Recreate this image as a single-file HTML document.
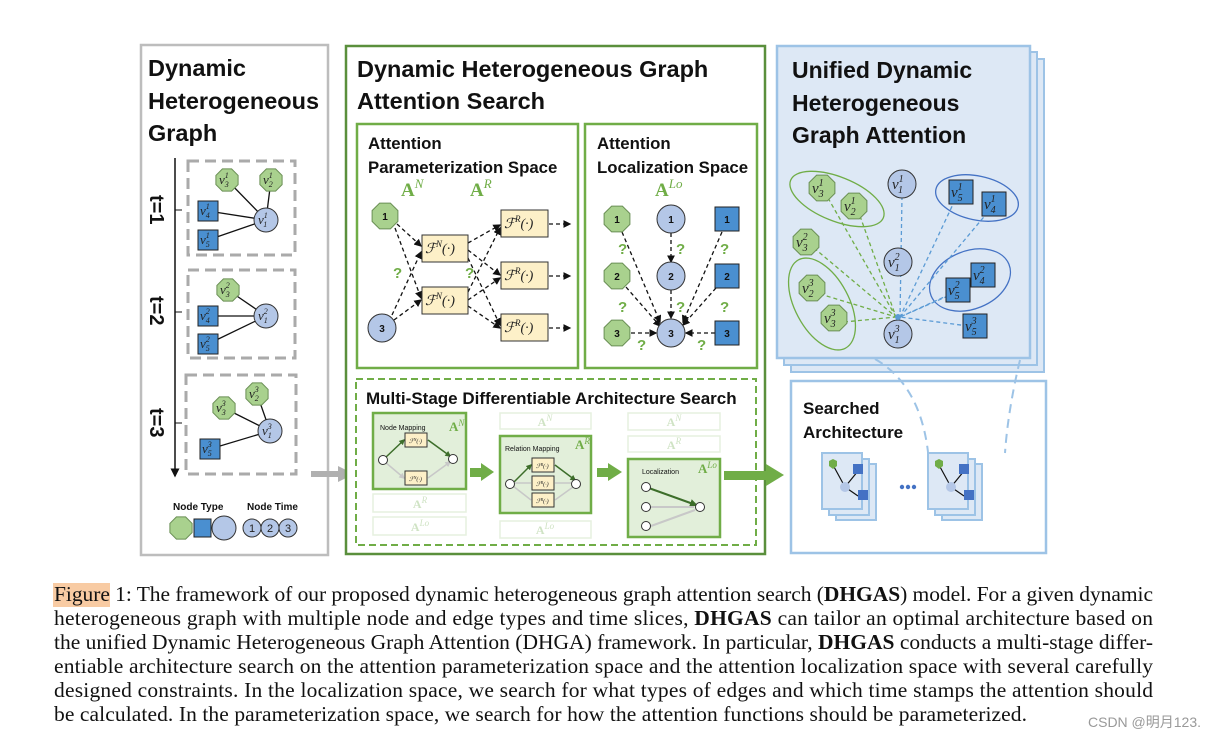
<!DOCTYPE html>
<html><head><meta charset="utf-8"><style>
html,body{margin:0;padding:0;background:#fff;width:1230px;height:740px;overflow:hidden}
svg{display:block}
.t{font-family:"Liberation Sans",sans-serif;font-weight:bold;fill:#111}
.v{font-family:"Liberation Serif",serif;font-style:italic;font-size:13px;fill:#222}
.s{font-size:8px}
.vb{font-size:15px}
.vb .s{font-size:10px}
.n{font-family:"Liberation Sans",sans-serif;font-weight:bold;font-size:10px;fill:#111;text-anchor:middle}
.q{font-family:"Liberation Sans",sans-serif;font-weight:bold;font-size:15px;fill:#70ad47}
.A{font-family:"Liberation Serif",serif;font-weight:bold;font-size:19px;fill:#70ad47}
.A2{font-family:"Liberation Serif",serif;font-weight:bold;font-size:13px;fill:#70ad47}
.Af{font-family:"Liberation Serif",serif;font-weight:bold;font-size:12px;fill:#cfe3c4;text-anchor:middle}
.cap{font-family:"Liberation Serif",serif;font-size:21.5px;fill:#111}
.F{font-family:"Liberation Serif",serif;font-style:italic;font-size:14px;fill:#222}
.f6{font-family:"Liberation Serif",serif;font-style:italic;font-size:6px;fill:#222}
</style></head><body>
<svg width="1230" height="740" viewBox="0 0 1230 740" xmlns="http://www.w3.org/2000/svg">
<defs>
<polygon id="o12" points="11.1,4.6 4.6,11.1 -4.6,11.1 -11.1,4.6 -11.1,-4.6 -4.6,-11.1 4.6,-11.1 11.1,-4.6" fill="#a9d18e" stroke="#6a8f55" stroke-width="1"/>
<polygon id="o14" points="12.9,5.4 5.4,12.9 -5.4,12.9 -12.9,5.4 -12.9,-5.4 -5.4,-12.9 5.4,-12.9 12.9,-5.4" fill="#a9d18e" stroke="#6a8f55" stroke-width="1"/>
<circle id="c12" r="12" fill="#b4c7e7" stroke="#333" stroke-width="1"/>
<circle id="c14" r="14" fill="#b4c7e7" stroke="#333" stroke-width="1"/>
<rect id="s10" x="-10" y="-10" width="20" height="20" fill="#4a8fd0" stroke="#222" stroke-width="1"/>
<rect id="s12" x="-12" y="-12" width="24" height="24" fill="#4a8fd0" stroke="#222" stroke-width="1"/>
<marker id="ah" markerWidth="6" markerHeight="6" refX="5" refY="3" orient="auto"><path d="M0,0 L6,3 L0,6z" fill="#111"/></marker>
<marker id="ahg" markerWidth="4" markerHeight="4" refX="3" refY="2" orient="auto"><path d="M0,0 L4,2 L0,4z" fill="#3d6e2a"/></marker>
<marker id="ahl" markerWidth="4" markerHeight="4" refX="3" refY="2" orient="auto"><path d="M0,0 L4,2 L0,4z" fill="#c8c8c8"/></marker>
</defs>

<!-- Panel 1 -->
<rect x="141" y="45" width="187" height="510" fill="#fff" stroke="#bdbdbd" stroke-width="2.5"/>
<text class="t" font-size="23.5" style="font-size:23.5px" x="148" y="76">Dynamic</text>
<text class="t" style="font-size:23.5px" x="148" y="109">Heterogeneous</text>
<text class="t" style="font-size:23.5px" x="148" y="141">Graph</text>
<line x1="175" y1="158" x2="175" y2="476" stroke="#111" stroke-width="1.5" marker-end="url(#ah)"/>
<line x1="175" y1="210" x2="182" y2="210" stroke="#111"/><line x1="175" y1="312" x2="182" y2="312" stroke="#111"/><line x1="175" y1="423" x2="182" y2="423" stroke="#111"/>
<text class="t" style="font-size:20px" transform="translate(150,195) rotate(90)">t=1</text>
<text class="t" style="font-size:20px" transform="translate(150,296) rotate(90)">t=2</text>
<text class="t" style="font-size:20px" transform="translate(150,408) rotate(90)">t=3</text>
<g fill="none" stroke="#aaa" stroke-width="3" stroke-dasharray="11,6">
<rect x="188" y="161" width="107" height="94"/><rect x="188" y="270" width="107" height="88"/><rect x="186" y="375" width="110" height="99"/></g>
<g stroke="#111" stroke-width="1.3">
<line x1="227" y1="180" x2="266" y2="220"/><line x1="271" y1="180" x2="266" y2="220"/><line x1="208" y1="211" x2="266" y2="220"/><line x1="208" y1="240" x2="266" y2="220"/>
<line x1="228" y1="290" x2="266" y2="316"/><line x1="208" y1="316" x2="266" y2="316"/><line x1="208" y1="344" x2="266" y2="316"/>
<line x1="224" y1="408" x2="270" y2="431"/><line x1="257" y1="394" x2="270" y2="431"/><line x1="210" y1="449" x2="270" y2="431"/></g>
<use href="#o12" x="227" y="180"/><use href="#o12" x="271" y="180"/><use href="#s10" x="208" y="211"/><use href="#s10" x="208" y="240"/><use href="#c12" x="266" y="220"/>
<use href="#o12" x="228" y="290"/><use href="#s10" x="208" y="316"/><use href="#s10" x="208" y="344"/><use href="#c12" x="266" y="316"/>
<use href="#o12" x="224" y="408"/><use href="#o12" x="257" y="394"/><use href="#s10" x="210" y="449"/><use href="#c12" x="270" y="431"/>
<g class="v">
<text x="219" y="184">v<tspan class="s" dy="-6">1</tspan><tspan class="s" dx="-4" dy="9">3</tspan></text>
<text x="263" y="184">v<tspan class="s" dy="-6">1</tspan><tspan class="s" dx="-4" dy="9">2</tspan></text>
<text x="200" y="215">v<tspan class="s" dy="-6">1</tspan><tspan class="s" dx="-4" dy="9">4</tspan></text>
<text x="200" y="244">v<tspan class="s" dy="-6">1</tspan><tspan class="s" dx="-4" dy="9">5</tspan></text>
<text x="258" y="224">v<tspan class="s" dy="-6">1</tspan><tspan class="s" dx="-4" dy="9">1</tspan></text>
<text x="220" y="294">v<tspan class="s" dy="-6">2</tspan><tspan class="s" dx="-4" dy="9">3</tspan></text>
<text x="200" y="320">v<tspan class="s" dy="-6">2</tspan><tspan class="s" dx="-4" dy="9">4</tspan></text>
<text x="200" y="348">v<tspan class="s" dy="-6">2</tspan><tspan class="s" dx="-4" dy="9">5</tspan></text>
<text x="258" y="320">v<tspan class="s" dy="-6">2</tspan><tspan class="s" dx="-4" dy="9">1</tspan></text>
<text x="216" y="412">v<tspan class="s" dy="-6">3</tspan><tspan class="s" dx="-4" dy="9">3</tspan></text>
<text x="249" y="398">v<tspan class="s" dy="-6">3</tspan><tspan class="s" dx="-4" dy="9">2</tspan></text>
<text x="202" y="453">v<tspan class="s" dy="-6">3</tspan><tspan class="s" dx="-4" dy="9">5</tspan></text>
<text x="262" y="435">v<tspan class="s" dy="-6">3</tspan><tspan class="s" dx="-4" dy="9">1</tspan></text>
</g>
<text class="t" style="font-size:10px" x="173" y="510">Node Type</text>
<text class="t" style="font-size:10px" x="247" y="510">Node Time</text>
<use href="#o12" x="181" y="528"/><rect x="194" y="519" width="17" height="18" fill="#4a8fd0" stroke="#222"/><use href="#c12" x="224" y="528"/>
<g fill="#b4c7e7" stroke="#333"><circle cx="252" cy="528" r="9"/><circle cx="270" cy="528" r="9"/><circle cx="288" cy="528" r="9"/></g>
<g font-family="Liberation Sans,sans-serif" font-size="11" text-anchor="middle" fill="#222"><text x="252" y="532">1</text><text x="270" y="532">2</text><text x="288" y="532">3</text></g>
<line x1="311" y1="474" x2="340" y2="474" stroke="#b0b0b0" stroke-width="6"/><path d="M338,466 L354,474 L338,482z" fill="#b0b0b0"/>

<!-- Panel 2 -->
<rect x="346" y="46" width="419" height="508" fill="#fff" stroke="#5a8f3c" stroke-width="2.5"/>
<text class="t" style="font-size:23.5px" x="357" y="77">Dynamic Heterogeneous Graph</text>
<text class="t" style="font-size:23.5px" x="357" y="109">Attention Search</text>
<rect x="357" y="124" width="221" height="244" fill="#fff" stroke="#70ad47" stroke-width="2.5"/>
<rect x="585" y="124" width="172" height="244" fill="#fff" stroke="#70ad47" stroke-width="2.5"/>
<text class="t" style="font-size:16.8px" x="368" y="149">Attention</text>
<text class="t" style="font-size:16.8px" x="368" y="173">Parameterization Space</text>
<text class="A" x="401" y="196">A<tspan font-style="italic" font-weight="normal" style="font-size:13px" dy="-8">N</tspan></text>
<text class="A" x="470" y="196">A<tspan font-style="italic" font-weight="normal" style="font-size:13px" dy="-8">R</tspan></text>
<g stroke="#111" stroke-width="1.3" stroke-dasharray="4,3" fill="none" marker-end="url(#ah)">
<line x1="397" y1="224" x2="421" y2="246"/><line x1="395" y1="228" x2="421" y2="298"/>
<line x1="392" y1="315" x2="421" y2="252"/><line x1="394" y1="320" x2="421" y2="300"/>
<line x1="468" y1="243" x2="500" y2="225"/><line x1="468" y1="250" x2="500" y2="275"/><line x1="468" y1="258" x2="500" y2="325"/>
<line x1="468" y1="292" x2="500" y2="228"/><line x1="468" y1="300" x2="500" y2="278"/><line x1="468" y1="306" x2="500" y2="328"/>
<line x1="549" y1="224" x2="570" y2="224"/><line x1="549" y1="276" x2="570" y2="276"/><line x1="549" y1="328" x2="570" y2="328"/>
</g>
<use href="#o14" x="385" y="216"/><use href="#c14" x="382" y="328"/>
<text class="n" x="385" y="220">1</text><text class="n" x="382" y="332">3</text>
<g fill="#fdf0c8" stroke="#333" stroke-width="1">
<rect x="422" y="235" width="46" height="27"/><rect x="422" y="287" width="46" height="27"/>
<rect x="501" y="210" width="47" height="27"/><rect x="501" y="262" width="47" height="27"/><rect x="501" y="314" width="47" height="27"/></g>
<g class="F">
<text x="425" y="253">ℱ<tspan style="font-size:9px" dy="-6">N</tspan><tspan dy="6">(·)</tspan></text>
<text x="425" y="305">ℱ<tspan style="font-size:9px" dy="-6">N</tspan><tspan dy="6">(·)</tspan></text>
<text x="504" y="228">ℱ<tspan style="font-size:9px" dy="-6">R</tspan><tspan dy="6">(·)</tspan></text>
<text x="504" y="280">ℱ<tspan style="font-size:9px" dy="-6">R</tspan><tspan dy="6">(·)</tspan></text>
<text x="504" y="332">ℱ<tspan style="font-size:9px" dy="-6">R</tspan><tspan dy="6">(·)</tspan></text></g>
<text class="q" x="393" y="278">?</text><text class="q" x="465" y="278">?</text>

<text class="t" style="font-size:16.8px" x="597" y="149">Attention</text>
<text class="t" style="font-size:16.8px" x="597" y="173">Localization Space</text>
<text class="A" x="655" y="196">A<tspan font-style="italic" font-weight="normal" style="font-size:13px" dy="-8">Lo</tspan></text>
<g stroke="#111" stroke-width="1.3" stroke-dasharray="4,3" fill="none" marker-end="url(#ah)">
<line x1="622" y1="232" x2="660" y2="322"/><line x1="671" y1="233" x2="671" y2="262"/><line x1="722" y1="232" x2="683" y2="322"/>
<line x1="626" y1="287" x2="660" y2="326"/><line x1="671" y1="290" x2="671" y2="318"/><line x1="716" y1="288" x2="683" y2="325"/>
<line x1="631" y1="333" x2="656" y2="333"/><line x1="715" y1="333" x2="686" y2="333"/></g>
<use href="#o14" x="617" y="219"/><use href="#c14" x="671" y="219"/><use href="#s12" x="727" y="219"/>
<use href="#o14" x="617" y="276"/><use href="#c14" x="671" y="276"/><use href="#s12" x="727" y="276"/>
<use href="#o14" x="617" y="333"/><use href="#c14" x="671" y="333"/><use href="#s12" x="727" y="333"/>
<g class="n"><text x="617" y="223">1</text><text x="671" y="223">1</text><text x="727" y="223">1</text>
<text x="617" y="280">2</text><text x="671" y="280">2</text><text x="727" y="280">2</text>
<text x="617" y="337">3</text><text x="671" y="337">3</text><text x="727" y="337">3</text></g>
<g class="q"><text x="618" y="254">?</text><text x="676" y="254">?</text><text x="720" y="254">?</text>
<text x="618" y="312">?</text><text x="676" y="312">?</text><text x="720" y="312">?</text>
<text x="637" y="350">?</text><text x="697" y="350">?</text></g>

<!-- Multi-stage -->
<rect x="356" y="379" width="400" height="166" fill="#fff" stroke="#70ad47" stroke-width="2" stroke-dasharray="7,4"/>
<text class="t" style="font-size:17px" x="366" y="404">Multi-Stage Differentiable Architecture Search</text>
<g fill="#fff" stroke="#e6f0df" stroke-width="1.5">
<rect x="373" y="494" width="93" height="18"/><rect x="373" y="517" width="93" height="18"/>
<rect x="500" y="413" width="91" height="16"/><rect x="500" y="521" width="91" height="17"/>
<rect x="628" y="413" width="92" height="17"/><rect x="628" y="436" width="92" height="16"/></g>
<text class="Af" x="420" y="508">A<tspan font-style="italic" font-weight="normal" style="font-size:9px" dy="-5">R</tspan></text>
<text class="Af" x="420" y="531">A<tspan font-style="italic" font-weight="normal" style="font-size:9px" dy="-5">Lo</tspan></text>
<text class="Af" x="545" y="426">A<tspan font-style="italic" font-weight="normal" style="font-size:9px" dy="-5">N</tspan></text>
<text class="Af" x="545" y="534">A<tspan font-style="italic" font-weight="normal" style="font-size:9px" dy="-5">Lo</tspan></text>
<text class="Af" x="674" y="426">A<tspan font-style="italic" font-weight="normal" style="font-size:9px" dy="-5">N</tspan></text>
<text class="Af" x="674" y="449">A<tspan font-style="italic" font-weight="normal" style="font-size:9px" dy="-5">R</tspan></text>
<g fill="#e2efda" stroke="#70ad47" stroke-width="2.5">
<rect x="373" y="413" width="93" height="76"/><rect x="500" y="436" width="91" height="77"/><rect x="628" y="459" width="92" height="78"/></g>
<g font-family="Liberation Sans,sans-serif" font-size="7" fill="#111">
<text x="380" y="430">Node Mapping</text><text x="505" y="451">Relation Mapping</text><text x="642" y="474">Localization</text></g>
<text class="A2" x="449" y="431">A<tspan font-style="italic" font-weight="normal" style="font-size:9px" dy="-5">N</tspan></text>
<text class="A2" x="575" y="449">A<tspan font-style="italic" font-weight="normal" style="font-size:9px" dy="-5">R</tspan></text>
<text class="A2" x="698" y="473">A<tspan font-style="italic" font-weight="normal" style="font-size:9px" dy="-5">Lo</tspan></text>
<g stroke-width="1.5" fill="none">
<path d="M385,458 L404,440" stroke="#3d6e2a" marker-end="url(#ahg)"/><path d="M428,440 L450,456" stroke="#3d6e2a" marker-end="url(#ahg)"/>
<path d="M385,462 L404,478" stroke="#c8c8c8" marker-end="url(#ahl)"/><path d="M428,478 L450,462" stroke="#c8c8c8" marker-end="url(#ahl)"/>
<path d="M513,483 L531,465" stroke="#3d6e2a" marker-end="url(#ahg)"/><path d="M555,465 L575,480" stroke="#3d6e2a" marker-end="url(#ahg)"/>
<path d="M513,483 L531,483 M555,483 L573,483" stroke="#c8c8c8"/><path d="M513,486 L531,500 M555,500 L573,487" stroke="#c8c8c8"/>
<path d="M646,487 L696,505" stroke="#3d6e2a" stroke-width="2" marker-end="url(#ahg)"/>
<path d="M651,507 L694,507 M651,526 L695,510" stroke="#c8c8c8" stroke-width="2"/></g>
<g fill="#fdf0c8" stroke="#333" stroke-width="1">
<rect x="405" y="433" width="22" height="14"/><rect x="405" y="471" width="22" height="14"/>
<rect x="532" y="458" width="22" height="14"/><rect x="532" y="476" width="22" height="14"/><rect x="532" y="493" width="22" height="14"/></g>
<g class="f6"><text x="409" y="443">ℱ<tspan style="font-size:4px" dy="-2">N</tspan><tspan dy="2">(·)</tspan></text><text x="409" y="481">ℱ<tspan style="font-size:4px" dy="-2">N</tspan><tspan dy="2">(·)</tspan></text>
<text x="536" y="468">ℱ<tspan style="font-size:4px" dy="-2">R</tspan><tspan dy="2">(·)</tspan></text><text x="536" y="486">ℱ<tspan style="font-size:4px" dy="-2">R</tspan><tspan dy="2">(·)</tspan></text><text x="536" y="503">ℱ<tspan style="font-size:4px" dy="-2">R</tspan><tspan dy="2">(·)</tspan></text></g>
<g fill="#fff" stroke="#333" stroke-width="1">
<circle cx="383" cy="460" r="4.5"/><circle cx="453" cy="459" r="4.5"/>
<circle cx="510" cy="484" r="4.5"/><circle cx="576" cy="484" r="4.5"/>
<circle cx="646" cy="487" r="4.5"/><circle cx="646" cy="507" r="4.5"/><circle cx="646" cy="526" r="4.5"/><circle cx="700" cy="507" r="4.5"/></g>
<g fill="#70ad47">
<rect x="470" y="468" width="12" height="9"/><path d="M481,463 L494,472 L481,481z"/>
<rect x="597" y="468" width="12" height="9"/><path d="M608,463 L622,472 L608,481z"/>
<rect x="724" y="471" width="44" height="9"/><path d="M766,464 L784,475 L766,486z"/></g>

<!-- Blue panel -->
<rect x="791" y="59" width="253" height="313" fill="#dde8f5" stroke="#9dc3e6" stroke-width="2"/>
<rect x="784" y="52" width="253" height="313" fill="#dde8f5" stroke="#9dc3e6" stroke-width="2"/>
<rect x="777" y="46" width="253" height="312" fill="#dde8f5" stroke="#9dc3e6" stroke-width="2.5"/>
<text class="t" style="font-size:23px" x="792" y="78">Unified Dynamic</text>
<text class="t" style="font-size:23px" x="792" y="111">Heterogeneous</text>
<text class="t" style="font-size:23px" x="792" y="143">Graph Attention</text>
<g fill="none" stroke-width="1.3">
<ellipse cx="837" cy="199" rx="50" ry="22" transform="rotate(22 837 199)" stroke="#70ad47"/>
<ellipse cx="822" cy="304" rx="27" ry="50" transform="rotate(-28 822 304)" stroke="#70ad47"/>
<ellipse cx="977" cy="198" rx="42" ry="22" transform="rotate(12 977 198)" stroke="#4472c4"/>
<ellipse cx="970" cy="280" rx="42" ry="29" transform="rotate(-22 970 280)" stroke="#4472c4"/></g>
<g stroke-width="1.3" stroke-dasharray="4,3">
<g stroke="#70ad47"><line x1="828" y1="198" x2="896" y2="317"/><line x1="860" y1="216" x2="896" y2="317"/><line x1="814" y1="248" x2="896" y2="317"/><line x1="820" y1="294" x2="896" y2="317"/><line x1="844" y1="322" x2="896" y2="317"/></g>
<g stroke="#5b9bd5"><line x1="902" y1="196" x2="900" y2="317"/><line x1="955" y1="200" x2="900" y2="317"/><line x1="988" y1="212" x2="900" y2="317"/><line x1="948" y1="296" x2="900" y2="317"/><line x1="975" y1="283" x2="900" y2="317"/><line x1="968" y1="326" x2="900" y2="317"/></g></g>
<use href="#o14" x="822" y="188"/><use href="#o14" x="854" y="206"/><use href="#o14" x="806" y="242"/><use href="#o14" x="812" y="288"/><use href="#o14" x="834" y="318"/>
<use href="#c14" x="902" y="184"/><use href="#c14" x="898" y="262"/><use href="#c14" x="898" y="334"/>
<use href="#s12" x="961" y="192"/><use href="#s12" x="994" y="204"/><use href="#s12" x="958" y="290"/><use href="#s12" x="983" y="275"/><use href="#s12" x="975" y="326"/>
<circle cx="898" cy="317" r="3" fill="#5b9bd5"/>
<g class="v vb">
<text x="812" y="193">v<tspan class="s" dy="-7">1</tspan><tspan class="s" dx="-5" dy="11">3</tspan></text>
<text x="844" y="211">v<tspan class="s" dy="-7">1</tspan><tspan class="s" dx="-5" dy="11">2</tspan></text>
<text x="796" y="247">v<tspan class="s" dy="-7">2</tspan><tspan class="s" dx="-5" dy="11">3</tspan></text>
<text x="802" y="293">v<tspan class="s" dy="-7">3</tspan><tspan class="s" dx="-5" dy="11">2</tspan></text>
<text x="824" y="323">v<tspan class="s" dy="-7">3</tspan><tspan class="s" dx="-5" dy="11">3</tspan></text>
<text x="892" y="189">v<tspan class="s" dy="-7">1</tspan><tspan class="s" dx="-5" dy="11">1</tspan></text>
<text x="888" y="267">v<tspan class="s" dy="-7">2</tspan><tspan class="s" dx="-5" dy="11">1</tspan></text>
<text x="888" y="339">v<tspan class="s" dy="-7">3</tspan><tspan class="s" dx="-5" dy="11">1</tspan></text>
<text x="951" y="197">v<tspan class="s" dy="-7">1</tspan><tspan class="s" dx="-5" dy="11">5</tspan></text>
<text x="984" y="209">v<tspan class="s" dy="-7">1</tspan><tspan class="s" dx="-5" dy="11">4</tspan></text>
<text x="948" y="295">v<tspan class="s" dy="-7">2</tspan><tspan class="s" dx="-5" dy="11">5</tspan></text>
<text x="973" y="280">v<tspan class="s" dy="-7">2</tspan><tspan class="s" dx="-5" dy="11">4</tspan></text>
<text x="965" y="331">v<tspan class="s" dy="-7">3</tspan><tspan class="s" dx="-5" dy="11">5</tspan></text></g>

<!-- Searched architecture -->
<rect x="791" y="381" width="255" height="172" fill="#fff" stroke="#9dc3e6" stroke-width="2.5"/>
<g fill="none" stroke="#9dc3e6" stroke-width="2" stroke-dasharray="9,6">
<path d="M875,359 Q920,385 928,452"/><path d="M1020,360 Q1008,410 1005,453"/></g>
<text class="t" style="font-size:17px" x="803" y="414">Searched</text>
<text class="t" style="font-size:17px" x="803" y="438">Architecture</text>
<g stroke="#9dc3e6" stroke-width="2" fill="#dde8f5">
<rect x="836" y="464" width="40" height="56"/><rect x="829" y="459" width="40" height="56"/><rect x="822" y="453" width="40" height="56"/>
<rect x="942" y="464" width="40" height="56"/><rect x="935" y="459" width="40" height="56"/><rect x="928" y="453" width="40" height="56"/></g>
<g stroke="#111" stroke-width="1.2" fill="none"><path d="M833,465 L845,487 M845,487 L858,471 M845,487 L858,496"/><path d="M939,465 L951,487 M951,487 L964,471 M951,487 L964,496"/></g>
<g><circle cx="845" cy="487" r="5" fill="#b4c7e7"/><circle cx="951" cy="487" r="5" fill="#b4c7e7"/>
<polygon points="833,459 837,461 837,466 833,469 829,466 829,461" fill="#70ad47"/><polygon points="939,459 943,461 943,466 939,469 935,466 935,461" fill="#70ad47"/>
<rect x="853" y="464" width="10" height="10" fill="#4472c4"/><rect x="858" y="490" width="10" height="10" fill="#4472c4"/>
<rect x="959" y="464" width="10" height="10" fill="#4472c4"/><rect x="964" y="490" width="10" height="10" fill="#4472c4"/></g>
<g fill="#4472c4"><circle cx="902" cy="487" r="2.2"/><circle cx="908" cy="487" r="2.2"/><circle cx="914" cy="487" r="2.2"/></g>

<!-- Caption -->
<rect x="53" y="583" width="57" height="24" fill="#f8cba3"/>
<text class="cap" x="54" y="601" textLength="1099" lengthAdjust="spacing">Figure 1: The framework of our proposed dynamic heterogeneous graph attention search (<tspan font-weight="bold">DHGAS</tspan>) model. For a given dynamic</text>
<text class="cap" x="54" y="625" textLength="1099" lengthAdjust="spacing">heterogeneous graph with multiple node and edge types and time slices, <tspan font-weight="bold">DHGAS</tspan> can tailor an optimal architecture based on</text>
<text class="cap" x="54" y="649" textLength="1099" lengthAdjust="spacing">the unified Dynamic Heterogeneous Graph Attention (DHGA) framework. In particular, <tspan font-weight="bold">DHGAS</tspan> conducts a multi-stage differ-</text>
<text class="cap" x="54" y="673" textLength="1099" lengthAdjust="spacing">entiable architecture search on the attention parameterization space and the attention localization space with several carefully</text>
<text class="cap" x="54" y="697" textLength="1099" lengthAdjust="spacing">designed constraints. In the localization space, we search for what types of edges and which time stamps the attention should</text>
<text class="cap" x="54" y="721" textLength="973" lengthAdjust="spacing">be calculated. In the parameterization space, we search for how the attention functions should be parameterized.</text>
<text x="1088" y="727" font-family="Liberation Sans,Noto Sans CJK SC,sans-serif" font-size="14" fill="#999">CSDN @明月123.</text>
</svg>
</body></html>
